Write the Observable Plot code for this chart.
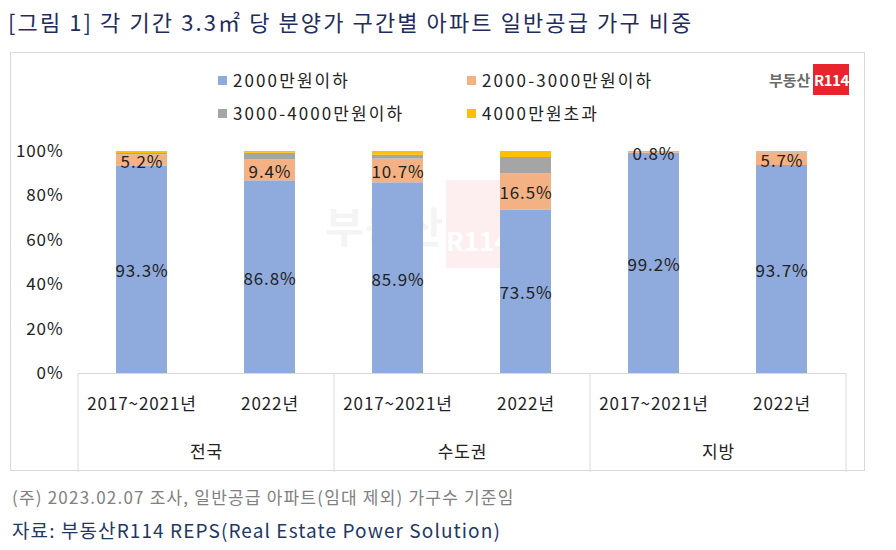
<!DOCTYPE html>
<html>
<head>
<meta charset="utf-8">
<script src="https://cdn.jsdelivr.net/npm/d3@7"></script>
<script src="https://cdn.jsdelivr.net/npm/@observablehq/plot@0.6"></script>
<style>
  html, body { margin: 0; padding: 0; background: #fff; }
  body { font-family: "Noto Sans CJK KR", "Noto Sans", sans-serif; }
  #root { position: relative; width: 896px; height: 550px; background: #fff; overflow: hidden; }
  .abs { position: absolute; white-space: nowrap; }
  #title { left: 8px; top: 6px; font-size: 22px; letter-spacing: 2.1px; color: #1f2d5c; line-height: 30px; }
  #box { left: 10px; top: 52px; width: 855px; height: 419px; border: 1px solid #d9d9d9; box-sizing: border-box; }
  .leg { font-size: 17px; letter-spacing: 2.1px; color: #222; line-height: 22px; display: flex; align-items: center; }
  .sw { width: 9px; height: 9px; display: inline-block; margin-right: 6px; }
  #chart { left: 10px; top: 140px; }
  #chart svg text { letter-spacing: 0.9px; }
  #foot1 { left: 12px; top: 485px; font-size: 17px; color: #808080; letter-spacing: 1.2px; line-height: 24px; }
  #foot2 { left: 12px; top: 518px; font-size: 19px; color: #1f3864; letter-spacing: 1.1px; line-height: 24px; }
  #logo { left: 769px; top: 64px; display: flex; align-items: center; }
  #logo .t { font-size: 15px; font-weight: 700; color: #6b6b6b; margin-right: 3px; }
  #logo .r { background: #e8242c; color: #fff; font-weight: 700; font-size: 15px; width: 36px; height: 31px; display: flex; align-items: center; justify-content: center; letter-spacing: -0.5px; }
  #wm { left: 325px; top: 180px; display: flex; align-items: center; opacity: 0.07; }
  #wm .t { font-size: 42px; font-weight: 700; color: #777; letter-spacing: 1px; margin-right: 2px; }
  #wm .r { background: #e8242c; color: #fff; font-weight: 700; font-size: 26px; width: 64px; height: 88px; display: flex; align-items: center; justify-content: center; padding-top: 30px; box-sizing: border-box; }
</style>
</head>
<body>
<div id="root">
  <div id="title" class="abs">[그림 1] 각 기간 3.3㎡ 당 분양가 구간별 아파트 일반공급 가구 비중</div>
  <div id="box" class="abs"></div>
  <div id="wm" class="abs"><span class="t">부동산</span><span class="r">R114</span></div>
  <div id="legend"></div>
  <div id="logo" class="abs"><span class="t">부동산</span><span class="r">R114</span></div>
  <div id="chart" class="abs"></div>
  <div id="foot1" class="abs">(주) 2023.02.07 조사, 일반공급 아파트(임대 제외) 가구수 기준임</div>
  <div id="foot2" class="abs">자료: 부동산R114 REPS(Real Estate Power Solution)</div>
</div>
<script>
// ---- data ----
const regions = ["전국", "수도권", "지방"];
const periods = ["2017~2021년", "2022년"];
const series = ["2000만원이하", "2000-3000만원이하", "3000-4000만원이하", "4000만원초과"];
const colors = ["#8faadc", "#f4b183", "#a5a5a5", "#ffc000"];
// order: 전국(2017~2021, 2022), 수도권(...), 지방(...)
const under2000      = [93.3, 86.8, 85.9, 73.5, 99.2, 93.7];
const from2000to3000 = [5.2, 9.4, 10.7, 16.5, 0.8, 5.7];
const from3000to4000 = [0.6, 3.0, 1.7, 7.3, 0.0, 0.2];
const over4000       = [0.9, 0.8, 1.7, 2.7, 0.0, 0.4];
const yTicks = [0, 20, 40, 60, 80, 100];
const labeledSeries = [series[0], series[1]];

const seriesValues = [under2000, from2000to3000, from3000to4000, over4000];
const data = [];
regions.forEach((r, ri) => periods.forEach((p, pi) => {
  const i = ri * periods.length + pi;
  seriesValues.forEach((arr, si) => data.push({region: r, period: p, series: series[si], value: arr[i]}));
}));
const periodRows = regions.flatMap(r => periods.map(p => ({region: r, period: p})));

// ---- legend ----
const legendPos = [[218, 69], [467, 69], [218, 102], [467, 102]];
const legend = document.getElementById("legend");
series.forEach((s, i) => {
  const d = document.createElement("div");
  d.className = "abs leg";
  d.style.left = legendPos[i][0] + "px";
  d.style.top = legendPos[i][1] + "px";
  d.innerHTML = `<span class="sw" style="background:${colors[i]}"></span><span>${s}</span>`;
  legend.appendChild(d);
});

// ---- chart ----
const W = 856, H = 332;
const font = '"Noto Sans CJK KR", "Noto Sans", sans-serif';
const plot = Plot.plot({
  width: W, height: H,
  marginLeft: 67, marginRight: 19, marginTop: 11, marginBottom: 99,
  style: {background: "transparent", fontFamily: font, fontSize: "17px", color: "#222", overflow: "visible"},
  fx: {domain: regions, axis: null, padding: 0, label: null},
  x: {domain: periods, axis: null, paddingInner: 0.6, paddingOuter: 0.3},
  y: {domain: [0, 100], ticks: yTicks, tickFormat: d => d + "%", tickSize: 0, tickPadding: 15, label: null},
  color: {domain: series, range: colors},
  marks: [
    Plot.barY(data, {fx: "region", x: "period", y: "value", fill: "series"}),
    Plot.ruleY([0], {stroke: "#d9d9d9", strokeWidth: 1}),
    Plot.text(data.filter(d => labeledSeries.includes(d.series)),
      Plot.stackY({fx: "region", x: "period", y: "value", text: d => d.value.toFixed(1) + "%", fill: "#222", dy: 2})),
    Plot.text(periodRows, {fx: "region", x: "period", text: "period", frameAnchor: "bottom", dy: 36, fill: "#222"}),
    Plot.text(regions, {fx: d => d, text: d => d, frameAnchor: "bottom", dy: 84, fill: "#222"})
  ]
});
document.getElementById("chart").appendChild(plot);

// category separators of the two-level axis, placed with the plot's own scales
const fxS = plot.scale("fx"), yS = plot.scale("y");
const y0 = yS.apply(0);
const edges = regions.map(r => fxS.apply(r));
edges.push(fxS.apply(regions[regions.length - 1]) + fxS.bandwidth);
d3.select(plot).append("g")
  .selectAll("line").data(edges).join("line")
  .attr("x1", d => d).attr("x2", d => d)
  .attr("y1", y0).attr("y2", H)
  .attr("stroke", "#d9d9d9");
</script>
</body>
</html>
